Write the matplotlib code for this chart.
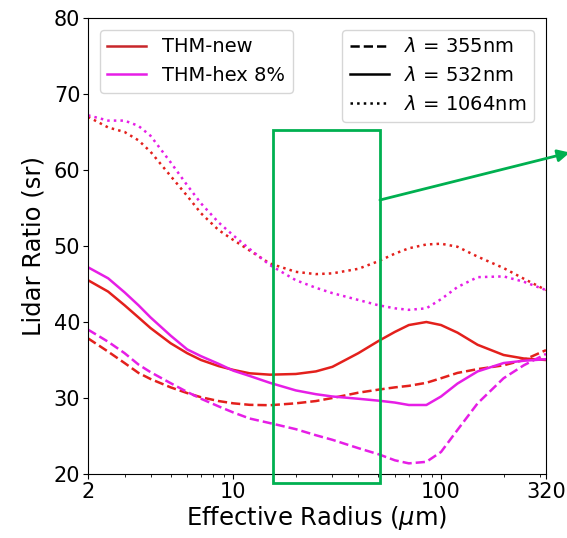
import matplotlib
matplotlib.use("Agg")
import matplotlib.pyplot as plt
from matplotlib.lines import Line2D
from matplotlib.patches import Rectangle
from matplotlib.ticker import FixedLocator, FixedFormatter, LogLocator, NullFormatter

# Effective radius grid (um)
reff = [2, 2.5, 3, 3.5, 4, 5, 6, 7, 8.5, 10, 12, 15, 20, 25, 30, 40, 50, 60, 70, 85, 100, 120, 150, 200, 250, 320]

# THM-new
new_355 = [37.85, 36.1, 34.6, 33.3, 32.5, 31.4, 30.65, 30.1, 29.6, 29.3, 29.1, 29.05, 29.3, 29.6, 30.0,
           30.7, 31.1, 31.4, 31.6, 32.0, 32.6, 33.3, 33.8, 34.3, 35.0, 36.3]
new_532 = [45.5, 44.0, 42.2, 40.6, 39.2, 37.2, 35.9, 35.0, 34.2, 33.7, 33.25, 33.07, 33.16, 33.5, 34.1,
           35.9, 37.5, 38.7, 39.6, 40.0, 39.6, 38.6, 37.0, 35.66, 35.2, 35.0]
new_1064 = [67.0, 65.6, 65.0, 63.9, 62.4, 59.2, 56.6, 54.3, 52.1, 50.8, 49.4, 47.7, 46.6, 46.3, 46.4,
            47.0, 48.0, 49.0, 49.7, 50.2, 50.3, 49.9, 48.6, 47.1, 45.7, 44.2]

# THM-hex 8%
hex_355 = [39.0, 37.4, 35.9, 34.4, 33.4, 31.95, 30.8, 29.9, 28.9, 28.1, 27.3, 26.7, 25.9, 25.1, 24.5,
           23.4, 22.6, 21.8, 21.4, 21.6, 22.9, 25.8, 29.3, 32.6, 34.3, 35.8]
hex_532 = [47.2, 45.75, 43.9, 42.2, 40.6, 38.2, 36.4, 35.5, 34.5, 33.6, 32.9, 32.0, 31.0, 30.5, 30.2,
           29.9, 29.65, 29.4, 29.08, 29.08, 30.2, 31.9, 33.5, 34.6, 34.9, 35.1]
hex_1064 = [67.2, 66.5, 66.5, 65.8, 64.5, 61.0, 58.0, 55.6, 53.1, 51.4, 49.6, 47.5, 45.5, 44.5, 43.8,
            42.9, 42.2, 41.8, 41.6, 41.8, 43.0, 44.6, 45.9, 46.0, 45.3, 44.2]

model_labels = ["THM-new", "THM-hex 8%"]
wl_labels = [r"$\lambda$ = 355nm", r"$\lambda$ = 532nm", r"$\lambda$ = 1064nm"]
xtick_vals = [2, 10, 100, 320]
xtick_labels = ["2", "10", "100", "320"]
yticks = [20, 30, 40, 50, 60, 70, 80]

# highlighted region (data coords) and arrow target
box_x = [15.5, 50.8]
box_y = [18.8, 65.3]
arrow_from = (50.8, 56.05)
arrow_to = (417, 62.3)

RED = "#e3201c"
MAG = "#e61ee6"
GREEN = "#00b050"

fig = plt.figure(figsize=(5.67, 5.38), dpi=100)
ax = fig.add_axes([88 / 567, 1 - 474 / 538, (546 - 88) / 567, (474 - 18) / 538])

lw = 1.8
ax.plot(reff, new_355, color=RED, lw=lw, ls="--")
ax.plot(reff, new_532, color=RED, lw=lw, ls="-")
ax.plot(reff, new_1064, color=RED, lw=lw, ls=":")
ax.plot(reff, hex_355, color=MAG, lw=lw, ls="--")
ax.plot(reff, hex_532, color=MAG, lw=lw, ls="-")
ax.plot(reff, hex_1064, color=MAG, lw=lw, ls=":")

ax.set_xscale("log")
ax.set_xlim(2, 320)
ax.set_ylim(20, 80)
ax.xaxis.set_major_locator(FixedLocator(xtick_vals))
ax.xaxis.set_major_formatter(FixedFormatter(xtick_labels))
ax.xaxis.set_minor_locator(LogLocator(base=10, subs=range(2, 10)))
ax.xaxis.set_minor_formatter(NullFormatter())
ax.set_yticks(yticks)
ax.tick_params(axis="both", which="major", labelsize=15, pad=2)
ax.set_xlabel(r"Effective Radius ($\mu$m)", fontsize=17.5, labelpad=2)
ax.set_ylabel("Lidar Ratio (sr)", fontsize=17.5, labelpad=6)

h1 = [Line2D([], [], color="#c8262a", lw=1.8), Line2D([], [], color=MAG, lw=1.8)]
leg1 = ax.legend(h1, model_labels, loc="upper left", fontsize=14, handlelength=2.0,
                 borderaxespad=0.6)
ax.add_artist(leg1)
h2 = [Line2D([], [], color="k", lw=1.8, ls="--"),
      Line2D([], [], color="k", lw=1.8, ls="-"),
      Line2D([], [], color="k", lw=1.8, ls=":")]
ax.legend(h2, wl_labels, loc="upper right", fontsize=14, handlelength=2.0,
          borderaxespad=0.6)

rect = Rectangle((box_x[0], box_y[0]), box_x[1] - box_x[0], box_y[1] - box_y[0],
                 fill=False, edgecolor=GREEN, lw=2.0, clip_on=False, zorder=5)
ax.add_patch(rect)
ax.annotate("", xy=arrow_to, xytext=arrow_from, xycoords="data",
            arrowprops=dict(arrowstyle="-|>", color=GREEN, lw=2.0, mutation_scale=18,
                            shrinkA=0, shrinkB=0),
            annotation_clip=False, zorder=6)

fig.savefig("out.png", dpi=100)
